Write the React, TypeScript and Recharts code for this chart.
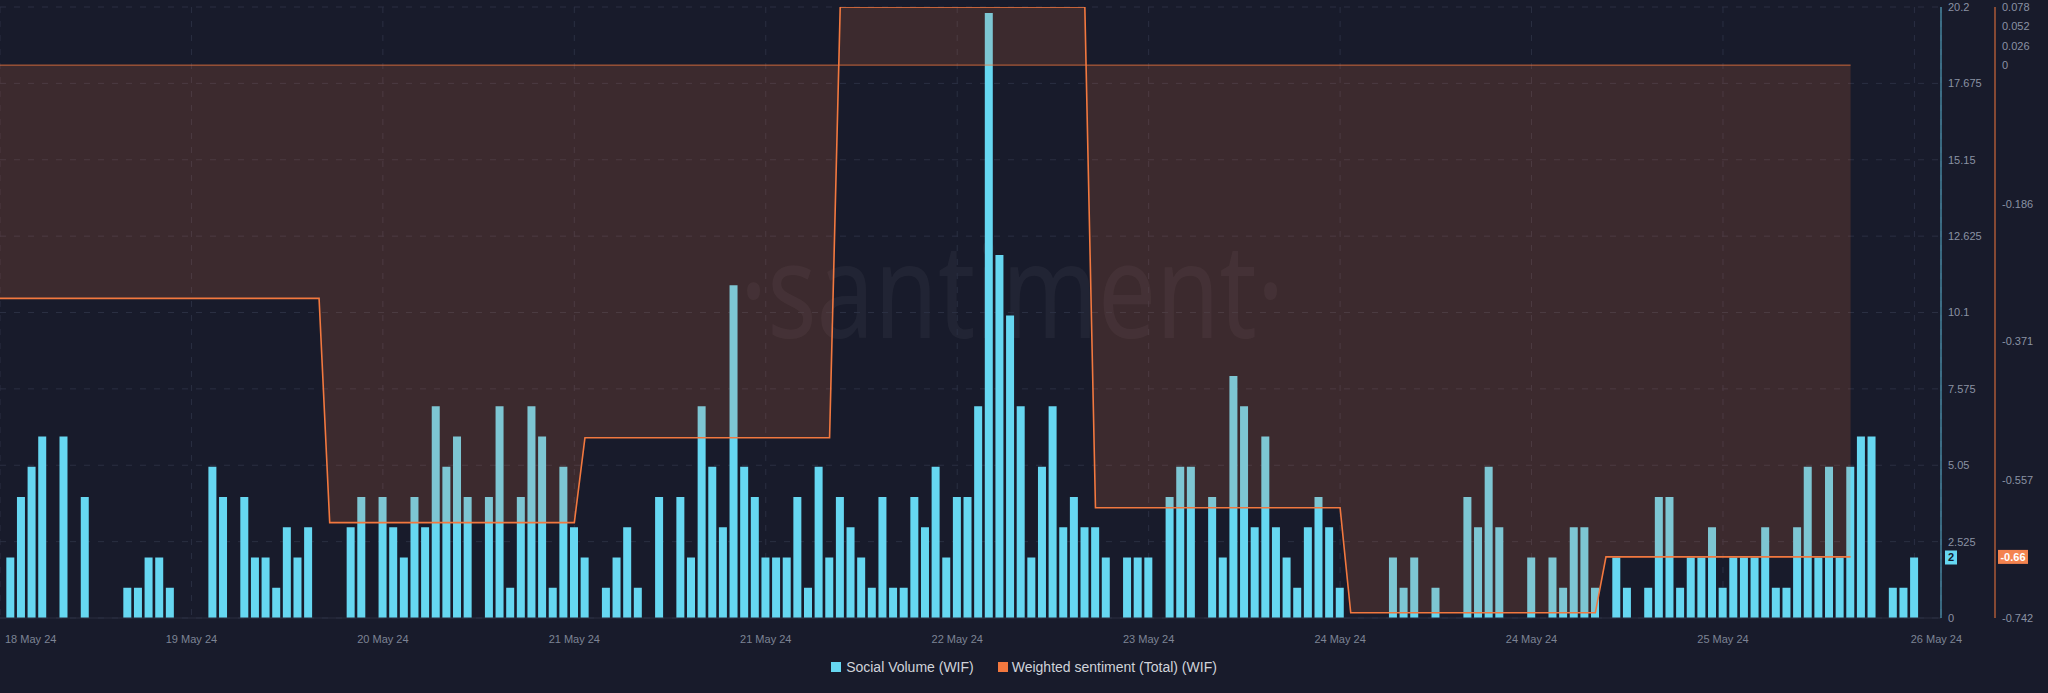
import React from 'react';
import { ComposedChart, Bar, Area, XAxis, YAxis, CartesianGrid, ReferenceLine } from 'recharts';

// Hourly social volume, slot k = 0..180
const socialVolume: number[] = [
  0, 2, 4, 5, 6, 0, 6, 0, 4, 0,
  0, 0, 1, 1, 2, 2, 1, 0, 0, 0,
  5, 4, 0, 4, 2, 2, 1, 3, 2, 3,
  0, 0, 0, 3, 4, 0, 4, 3, 2, 4,
  3, 7, 5, 6, 4, 0, 4, 7, 1, 4,
  7, 6, 1, 5, 3, 2, 0, 1, 2, 3,
  1, 0, 4, 0, 4, 2, 7, 5, 3, 11,
  5, 4, 2, 2, 2, 4, 1, 5, 2, 4,
  3, 2, 1, 4, 1, 1, 4, 3, 5, 2,
  4, 4, 7, 20, 12, 10, 7, 2, 5, 7,
  3, 4, 3, 3, 2, 0, 2, 2, 2, 0,
  4, 5, 5, 0, 4, 2, 8, 7, 3, 6,
  3, 2, 1, 3, 4, 3, 1, 0, 0, 0,
  0, 2, 1, 2, 0, 1, 0, 0, 4, 3,
  5, 3, 0, 0, 2, 0, 2, 1, 3, 3,
  1, 0, 2, 1, 0, 1, 4, 4, 1, 2,
  2, 3, 1, 2, 2, 2, 3, 1, 1, 3,
  5, 2, 5, 2, 5, 6, 6, 0, 1, 1,
  2,
];

// Daily weighted sentiment, held over the hourly slots starting at sentimentRunStart
const sentimentLevels: number[] = [-0.313, -0.614, -0.5, 0.078, -0.594, -0.735, -0.66];
const sentimentRunStart: number[] = [0, 31, 55, 79, 103, 127, 151];
const sentimentLastSlot = 174;

const xTickValues: number[] = [0, 18, 36, 54, 72, 90, 108, 126, 144, 162, 180];
const xTickLabels: string[] = [
  '18 May 24', '19 May 24', '20 May 24', '21 May 24', '21 May 24', '22 May 24',
  '23 May 24', '24 May 24', '24 May 24', '25 May 24', '26 May 24',
];
const volumeTicks: number[] = [0, 2.525, 5.05, 7.575, 10.1, 12.625, 15.15, 17.675, 20.2];
const sentimentTicks: number[] = [-0.742, -0.557, -0.371, -0.186, 0, 0.026, 0.052, 0.078];

const VOL_COLOR = '#66d7f1';
const SENT_COLOR = '#f2783f';
const VOL_AXIS = 'a_vol';
const SENT_AXIS = 'b_sent';

function sentimentAt(k: number): number | undefined {
  if (k > sentimentLastSlot) return undefined;
  let v = sentimentLevels[0];
  for (let i = 0; i < sentimentRunStart.length; i++) {
    if (k >= sentimentRunStart[i]) v = sentimentLevels[i];
  }
  return v;
}

const rows = socialVolume.map((vol, k) => ({ k, vol, sent: sentimentAt(k) }));
const lastVol = socialVolume[socialVolume.length - 1];
const lastSent = sentimentLevels[sentimentLevels.length - 1];

const XTick = (props: any) => {
  const { x, y, payload, index } = props;
  const i = xTickValues.indexOf(payload.value);
  const label = i >= 0 ? xTickLabels[i] : '';
  let anchor: 'start' | 'middle' | 'end' = 'middle';
  let dx = 0;
  if (index === 0) { anchor = 'start'; dx = 5; }
  if (i === xTickValues.length - 1) { dx = 22; }
  return (
    <text x={x + dx} y={y} dy={17} textAnchor={anchor} fill="#7d8495" fontSize={11}
      fontFamily='"Liberation Sans", Arial, sans-serif'>{label}</text>
  );
};

const Badge = ({ viewBox, text, fill, textColor, w, gap }: any) => {
  if (!viewBox) return null;
  const x = viewBox.x + viewBox.width + gap;
  const y = viewBox.y;
  return (
    <g>
      <rect x={x} y={y - 7} width={w} height={14} fill={fill} />
      <text x={x + w / 2} y={y} dy="0.36em" textAnchor="middle" fontSize={11} fontWeight={700}
        fill={textColor} fontFamily='"Liberation Sans", Arial, sans-serif'>{text}</text>
    </g>
  );
};

export default function App() {
  return (
    <div style={{ position: 'absolute', left: 0, top: 0, width: 2048, height: 693, background: '#181b2b', overflow: 'hidden', fontFamily: '"Liberation Sans", Arial, sans-serif' }}>
      <svg width={2048} height={693} style={{ position: 'absolute', left: 0, top: 0 }}>
        <text x={1012} y={338} textAnchor="middle" fontSize={132} fontFamily='"Noto Sans", sans-serif'
          fill="rgba(255,255,255,0.045)" transform="translate(1012 0) scale(0.78 1) translate(-1012 0)">·santiment·</text>
      </svg>
      <div style={{ position: 'absolute', left: 0, top: 0 }}>
        <ComposedChart width={2048} height={693} data={rows} margin={{ top: 7, right: 0, bottom: 45, left: 0 }}>
          <CartesianGrid yAxisId={VOL_AXIS} stroke="#2a2f42" strokeDasharray="6 8" />
          <XAxis dataKey="k" type="number" domain={[0, 182.5]} ticks={xTickValues} allowDataOverflow
            tick={<XTick />} tickLine={false} axisLine={{ stroke: '#2a2f40' }} height={30} interval={0} />
          <YAxis yAxisId={VOL_AXIS} orientation="right" domain={[0, 20.2]} ticks={volumeTicks} width={54}
            allowDataOverflow tickLine={false} tickSize={5} tickMargin={2} interval={0}
            axisLine={{ stroke: '#5ab8d6' }} tick={{ fill: '#8a92a3', fontSize: 11 }} />
          <YAxis yAxisId={SENT_AXIS} orientation="right" domain={[-0.742, 0.078]} ticks={sentimentTicks} width={53}
            allowDataOverflow tickLine={false} tickSize={5} tickMargin={2} interval={0}
            axisLine={{ stroke: SENT_COLOR }} tick={{ fill: '#8a92a3', fontSize: 11 }} />
          <Bar yAxisId={VOL_AXIS} dataKey="vol" fill={VOL_COLOR} barSize={8} isAnimationActive={false} />
          <Area yAxisId={SENT_AXIS} dataKey="sent" type="linear" baseValue={0} stroke={SENT_COLOR} strokeWidth={1.6}
            fill={SENT_COLOR} fillOpacity={0.17} isAnimationActive={false} dot={false} activeDot={false}
            zIndex={350} />
          <ReferenceLine yAxisId={SENT_AXIS} segment={[{ x: 0, y: 0 }, { x: sentimentLastSlot, y: 0 }]}
            stroke={SENT_COLOR} strokeOpacity={0.8} strokeWidth={1} />
          <ReferenceLine yAxisId={VOL_AXIS} y={lastVol} stroke="none"
            label={(p: any) => <Badge viewBox={p.viewBox} text={String(lastVol)} fill={VOL_COLOR} textColor="#15192a" w={12} gap={4} />} />
          <ReferenceLine yAxisId={SENT_AXIS} y={lastSent} stroke="none"
            label={(p: any) => <Badge viewBox={p.viewBox} text={String(lastSent)} fill="#f4834f" textColor="#ffffff" w={30} gap={57} />} />
        </ComposedChart>
      </div>
      <div style={{ position: 'absolute', left: 0, top: 659, width: 2048, display: 'flex', justifyContent: 'center', alignItems: 'center', gap: 24, fontSize: 14, lineHeight: '16px', color: '#d0d3da' }}>
        <div style={{ display: 'flex', alignItems: 'center' }}>
          <span style={{ display: 'inline-block', width: 10, height: 10, background: VOL_COLOR, marginRight: 5 }} />
          <span>Social Volume (WIF)</span>
        </div>
        <div style={{ display: 'flex', alignItems: 'center' }}>
          <span style={{ display: 'inline-block', width: 10, height: 10, background: SENT_COLOR, marginRight: 4 }} />
          <span>Weighted sentiment (Total) (WIF)</span>
        </div>
      </div>
    </div>
  );
}
